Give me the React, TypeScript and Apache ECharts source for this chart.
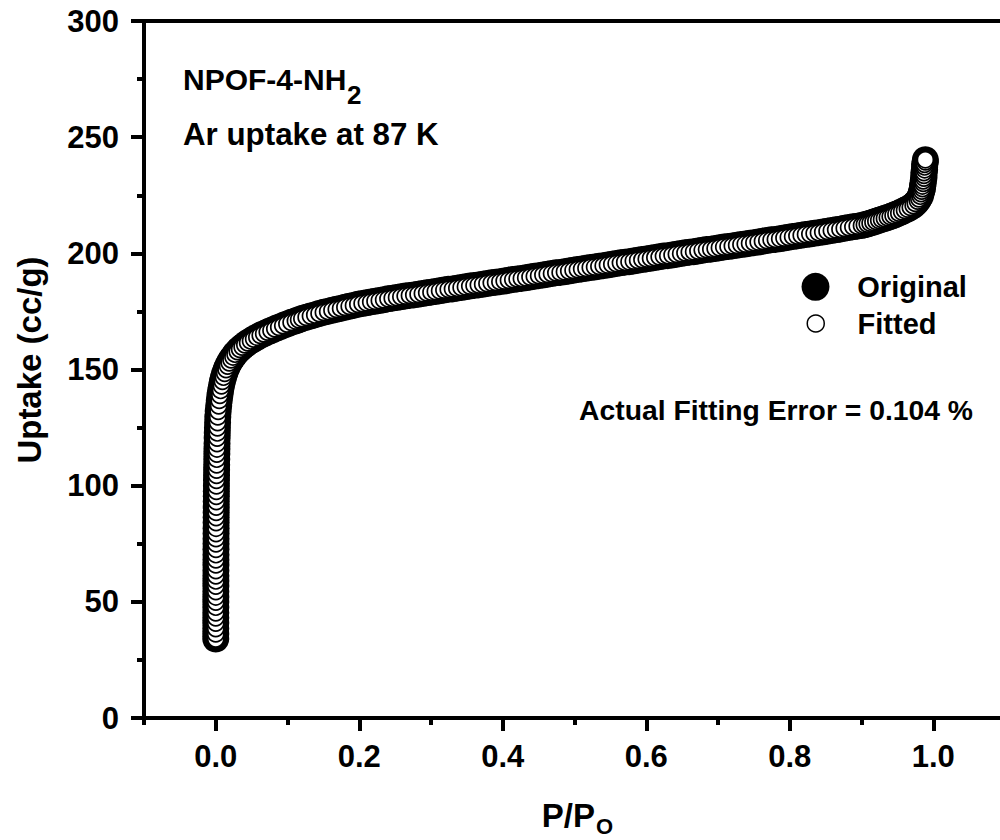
import React, { useEffect, useRef } from "react";
import * as echarts from "echarts";

// Relative pressure P/Po of each point
const pressure = [
  // steep rise at P/Po ~ 0
  0.00001, 0.00002, 0.00003, 0.00004, 0.00005, 0.00006, 0.00008, 0.00009, 0.00011, 0.00013,
  0.00015, 0.00017, 0.00019, 0.00022, 0.00024, 0.00027, 0.0003, 0.00033, 0.00036, 0.0004,
  0.00044, 0.00048, 0.00052, 0.00057, 0.00062, 0.00067, 0.00073, 0.00079, 0.00086, 0.00093,
  0.00101, 0.0011, 0.00119, 0.00129, 0.0014, 0.00152, 0.00165, 0.0018, 0.00196, 0.00214,
  0.00234, 0.00257, 0.00283,
  // knee
  0.0034, 0.0041, 0.0049, 0.0058, 0.0068, 0.008, 0.0093, 0.0108, 0.0125, 0.0144,
  0.0165, 0.0188, 0.0213, 0.024, 0.0269, 0.03, 0.0333, 0.0368, 0.0405, 0.0444,
  0.0485, 0.0528, 0.0573, 0.062, 0.0668, 0.0718, 0.077, 0.0823, 0.0878, 0.0934,
  0.0992, 0.105, 0.111, 0.1155,
  // plateau
  0.12, 0.126, 0.132, 0.138, 0.144, 0.15, 0.156, 0.162, 0.168, 0.174,
  0.18, 0.186, 0.192, 0.198, 0.204, 0.21, 0.216, 0.222, 0.228, 0.234,
  0.24, 0.246, 0.252, 0.258, 0.264, 0.27, 0.276, 0.282, 0.288, 0.294,
  0.3, 0.306, 0.312, 0.318, 0.324, 0.33, 0.336, 0.342, 0.348, 0.354,
  0.36, 0.366, 0.372, 0.378, 0.384, 0.39, 0.396, 0.402, 0.408, 0.414,
  0.42, 0.426, 0.432, 0.438, 0.444, 0.45, 0.456, 0.462, 0.468, 0.474,
  0.48, 0.486, 0.492, 0.498, 0.504, 0.51, 0.516, 0.522, 0.528, 0.534,
  0.54, 0.546, 0.552, 0.558, 0.564, 0.57, 0.576, 0.582, 0.588, 0.594,
  0.6, 0.606, 0.612, 0.618, 0.624, 0.63, 0.636, 0.642, 0.648, 0.654,
  0.66, 0.666, 0.672, 0.678, 0.684, 0.69, 0.696, 0.702, 0.708, 0.714,
  0.72, 0.726, 0.732, 0.738, 0.744, 0.75, 0.756, 0.762, 0.768, 0.774,
  0.78, 0.786, 0.792, 0.798, 0.804, 0.81, 0.816, 0.822, 0.828, 0.834,
  0.84, 0.846, 0.852, 0.858, 0.864, 0.87, 0.876, 0.882, 0.888, 0.894,
  0.9,
  // condensation near saturation
  0.904, 0.908, 0.912, 0.916, 0.92, 0.924, 0.928, 0.932, 0.936, 0.94,
  0.944, 0.948, 0.952, 0.956, 0.96, 0.964, 0.968, 0.972, 0.975, 0.978,
  0.98, 0.982, 0.983, 0.984, 0.985, 0.985, 0.986, 0.986, 0.987, 0.987,
  0.987, 0.988, 0.988, 0.988, 0.989, 0.989,
];

// Ar uptake (cc/g) of the original isotherm
const originalUptake = [
  34.0, 36.2, 38.5, 40.9, 43.1, 45.3, 47.7, 49.9, 52.1, 54.4,
  56.8, 59.0, 61.2, 63.5, 65.9, 68.1, 70.3, 72.6, 75.0, 77.2,
  79.4, 81.7, 84.1, 86.3, 88.5, 90.8, 93.2, 95.4, 97.6, 99.9,
  102.3, 104.5, 106.7, 109.0, 111.4, 113.6, 115.8, 118.1, 120.5, 122.7,
  124.9, 127.2, 129.6,
  132.0, 134.4, 136.7, 138.9, 141.0, 143.0, 144.9, 146.7, 148.4, 150.0,
  151.5, 152.9, 154.2, 155.4, 156.6, 157.7, 158.7, 159.7, 160.6, 161.5,
  162.3, 163.1, 163.9, 164.7, 165.4, 166.1, 166.8, 167.5, 168.2, 168.9,
  169.6, 170.3, 170.9, 171.4,
  171.9, 172.5, 173.0, 173.5, 174.1, 174.6, 175.0, 175.5, 175.9, 176.3,
  176.8, 177.2, 177.6, 178.1, 178.4, 178.7, 179.1, 179.4, 179.7, 180.0,
  180.4, 180.7, 181.0, 181.3, 181.6, 181.9, 182.1, 182.4, 182.7, 183.0,
  183.3, 183.6, 183.9, 184.2, 184.5, 184.7, 185.0, 185.3, 185.6, 185.9,
  186.2, 186.4, 186.7, 187.0, 187.3, 187.5, 187.8, 188.1, 188.4, 188.7,
  189.0, 189.2, 189.5, 189.8, 190.1, 190.4, 190.7, 191.0, 191.3, 191.6,
  191.8, 192.1, 192.4, 192.7, 193.0, 193.3, 193.6, 193.9, 194.1, 194.4,
  194.7, 195.0, 195.3, 195.6, 195.9, 196.2, 196.4, 196.7, 197.0, 197.3,
  197.6, 197.9, 198.2, 198.5, 198.8, 199.0, 199.3, 199.6, 199.9, 200.2,
  200.5, 200.7, 201.0, 201.3, 201.6, 201.8, 202.1, 202.4, 202.7, 202.9,
  203.2, 203.5, 203.8, 204.0, 204.3, 204.6, 204.9, 205.2, 205.5, 205.8,
  206.0, 206.3, 206.6, 206.9, 207.2, 207.5, 207.8, 208.1, 208.3, 208.6,
  208.9, 209.2, 209.5, 209.8, 210.1, 210.4, 210.8, 211.1, 211.4, 211.7,
  212.0,
  212.3, 212.6, 213.0, 213.4, 213.8, 214.2, 214.6, 215.0, 215.4, 215.8,
  216.3, 216.8, 217.3, 217.9, 218.5, 219.1, 219.8, 220.6, 221.5, 222.5,
  223.5, 224.6, 225.7, 226.8, 227.9, 229.0, 230.1, 231.2, 232.4, 233.6,
  234.8, 236.0, 237.2, 238.3, 239.4, 240.3,
];

// The fitted isotherm overlays the original (fitting error 0.104 %), so its values coincide
const fittedUptake = originalUptake;

const seriesNames = ["Original", "Fitted"];
const xTickValues = [0, 0.2, 0.4, 0.6, 0.8, 1.0];
const xMinorTickValues = [-0.1, 0.1, 0.3, 0.5, 0.7, 0.9, 1.1];
const titleLine1 = "NPOF-4-NH";
const titleSub = "2";
const titleLine2 = "Ar uptake at 87 K";
const errorNote = "Actual Fitting Error = 0.104 %";
const yTitle = "Uptake (cc/g)";
const xTitleMain = "P/P";
const xTitleSub = "O";

const FONT = 'Arial, "Liberation Sans", Helvetica, sans-serif';

export default function App() {
  const ref = useRef<HTMLDivElement>(null);

  useEffect(() => {
    if (!ref.current) return;
    const chart = echarts.init(ref.current, null, { renderer: "svg" });
    const originalData = pressure.map((p, i) => [p, originalUptake[i]]);
    const fittedData = pressure.map((p, i) => [p, fittedUptake[i]]);

    const legendText = { fontSize: 29, fontWeight: "bold", color: "#000", fontFamily: FONT };
    const txt = (text: string, x: number, y: number, size: number, align = "left", rotation = 0) => ({
      type: "text",
      x,
      y,
      rotation,
      silent: true,
      style: {
        text,
        fill: "#000",
        font: `bold ${size}px ${FONT}`,
        align,
        verticalAlign: "middle",
        textAlign: align,
        textVerticalAlign: "middle",
      },
    });

    chart.setOption({
      animation: false,
      backgroundColor: "#fff",
      textStyle: { fontFamily: FONT },
      grid: {
        left: 144,
        top: 21,
        width: 861,
        height: 697,
        containLabel: false,
        outerBoundsMode: "none",
      },
      xAxis: [
        {
          type: "value",
          position: "bottom",
          min: -0.1,
          max: 1.1,
          interval: 0.1,
          axisLine: { show: true, onZero: false, lineStyle: { color: "#000", width: 4 } },
          axisTick: {
            show: true,
            inside: false,
            length: 13,
            customValues: xTickValues,
            lineStyle: { color: "#000", width: 4 },
          },
          axisLabel: {
            show: true,
            customValues: xTickValues,
            margin: 23,
            fontSize: 31,
            fontWeight: "bold",
            color: "#000",
            fontFamily: FONT,
            formatter: (v: number) => v.toFixed(1),
          },
          splitLine: { show: false },
        },
        {
          type: "value",
          position: "bottom",
          min: -0.1,
          max: 1.1,
          interval: 0.1,
          axisLine: { show: false, onZero: false },
          axisTick: {
            show: true,
            inside: false,
            length: 7,
            customValues: xMinorTickValues,
            lineStyle: { color: "#000", width: 4 },
          },
          axisLabel: { show: false },
          splitLine: { show: false },
        },
        {
          type: "value",
          position: "top",
          min: -0.1,
          max: 1.1,
          interval: 0.1,
          axisLine: { show: true, onZero: false, lineStyle: { color: "#000", width: 4 } },
          axisTick: { show: false },
          axisLabel: { show: false },
          splitLine: { show: false },
        },
      ],
      yAxis: {
        type: "value",
        min: 0,
        max: 300,
        interval: 50,
        axisLine: { show: true, onZero: false, lineStyle: { color: "#000", width: 4 } },
        axisTick: { show: true, inside: false, length: 13, lineStyle: { color: "#000", width: 4 } },
        minorTick: { show: true, splitNumber: 2, length: 7, lineStyle: { color: "#000", width: 4 } },
        axisLabel: {
          margin: 25,
          fontSize: 31,
          fontWeight: "bold",
          color: "#000",
          fontFamily: FONT,
        },
        splitLine: { show: false },
      },
      legend: [
        {
          data: [seriesNames[0]],
          left: 801.5,
          top: 272.3,
          padding: 0,
          itemWidth: 73.6,
          itemHeight: 28,
          icon: "circle",
          selectedMode: false,
          textStyle: legendText,
        },
        {
          data: [seriesNames[1]],
          left: 806.5,
          top: 309,
          padding: 0,
          itemWidth: 73.6,
          itemHeight: 17,
          icon: "circle",
          selectedMode: false,
          itemStyle: { borderWidth: 1.5, borderColor: "#000", color: "#fff" },
          textStyle: legendText,
        },
      ],
      series: [
        {
          name: seriesNames[0],
          type: "scatter",
          xAxisIndex: 0,
          yAxisIndex: 0,
          data: originalData,
          symbol: "circle",
          symbolSize: 27,
          itemStyle: { color: "#000", borderWidth: 0, opacity: 1 },
          silent: true,
          z: 2,
        },
        {
          name: seriesNames[1],
          type: "scatter",
          xAxisIndex: 0,
          yAxisIndex: 0,
          data: fittedData,
          symbol: "circle",
          symbolSize: 16,
          itemStyle: { color: "#fff", borderColor: "#000", borderWidth: 1.7, opacity: 1 },
          silent: true,
          z: 3,
        },
      ],
      graphic: [
        txt(titleLine1, 183, 79.5, 30),
        txt(titleSub, 347, 95, 26),
        txt(titleLine2, 183, 134.5, 31.3),
        txt(errorNote, 973, 410.2, 28.3, "right"),
        txt(yTitle, 29, 360, 33, "center", Math.PI / 2),
        txt(xTitleMain, 541.7, 815.8, 33),
        txt(xTitleSub, 596, 826.5, 22),
      ],
    });

    return () => chart.dispose();
  }, []);

  return (
    <div
      ref={ref}
      style={{ position: "absolute", left: 0, top: 0, width: 1000, height: 840, background: "#fff" }}
    />
  );
}
